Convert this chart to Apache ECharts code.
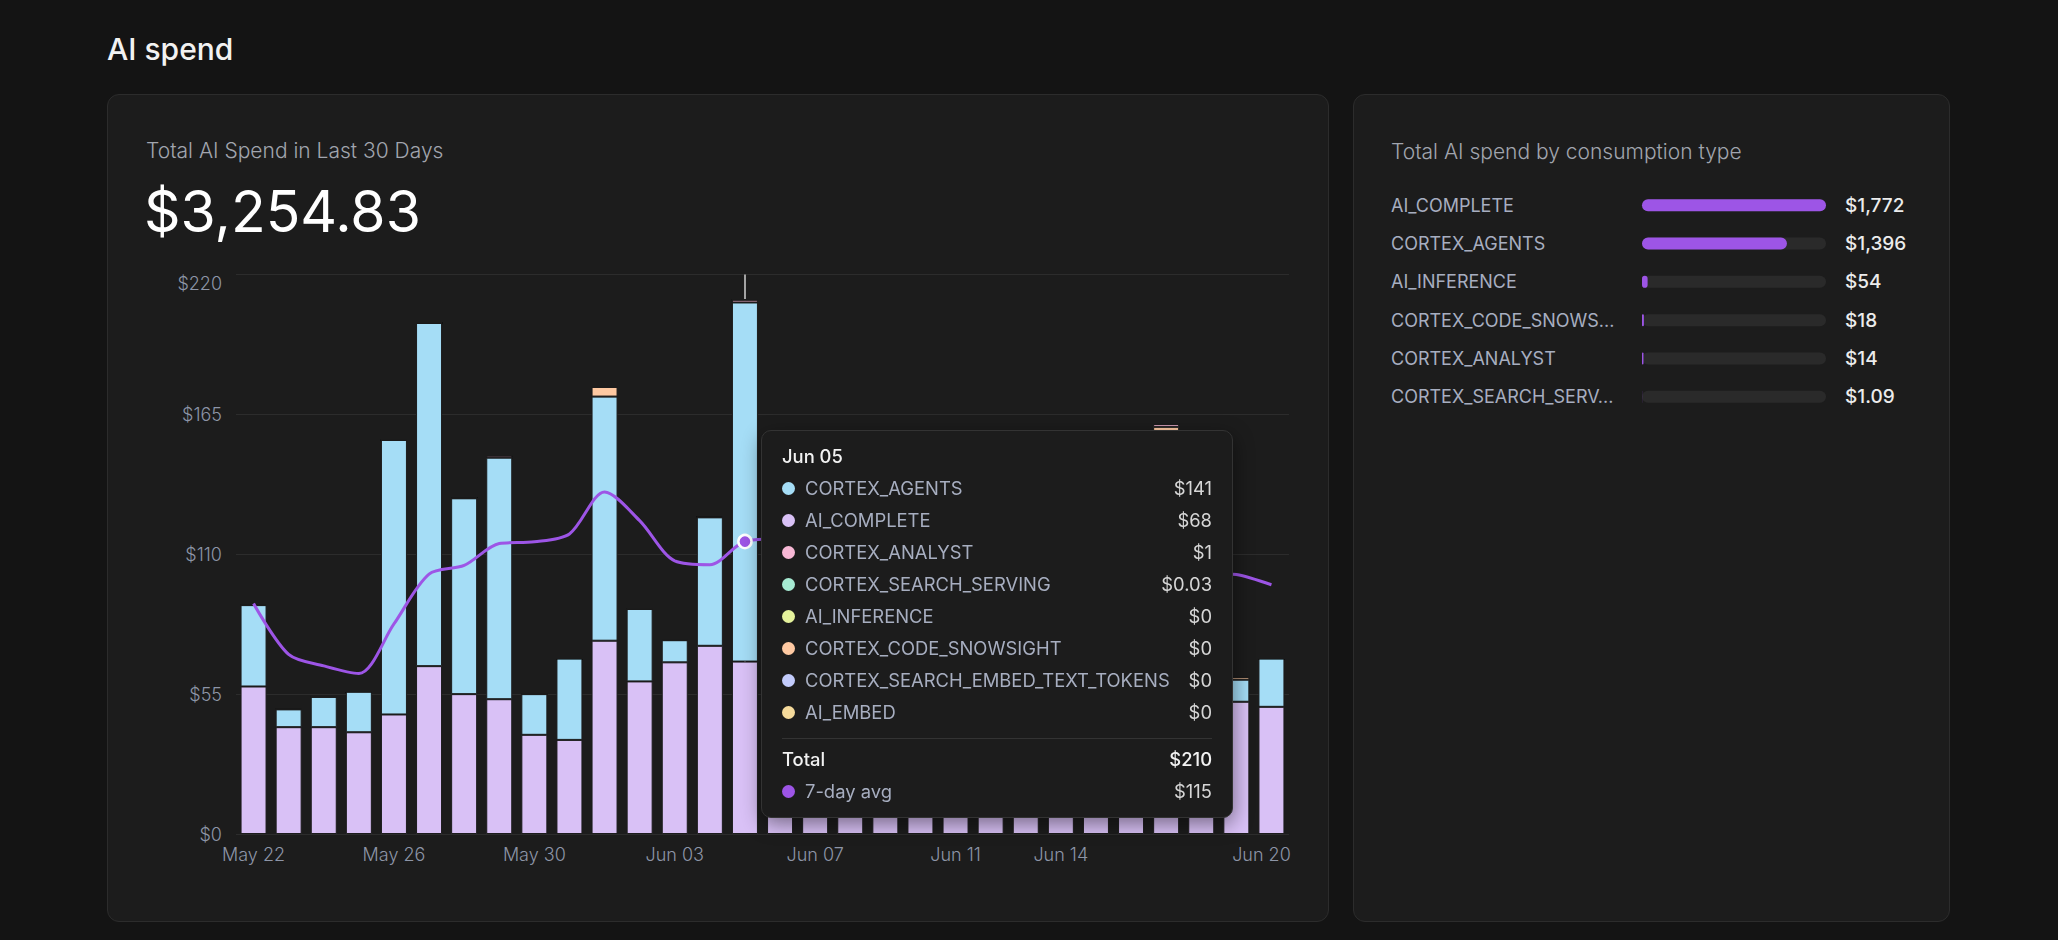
<!DOCTYPE html>
<html>
<head>
<meta charset="utf-8">
<title>AI spend</title>
<script src="https://cdn.jsdelivr.net/npm/echarts@6/dist/echarts.min.js"></script>
<style>
  html, body { margin: 0; padding: 0; }
  body {
    width: 2058px; height: 940px; position: relative; overflow: hidden;
    background: #141414; font-family: Inter, "Noto Sans", sans-serif;
  }
  .card {
    position: absolute; box-sizing: border-box;
    background: #1c1c1c; border: 1px solid #2c2c2c; border-radius: 12px;
  }
  .txt { position: absolute; line-height: 1; white-space: nowrap; pointer-events: none; z-index: 5; }
  .chart { position: absolute; }
</style>
</head>
<body>
<div class="txt" style="left:107px;top:34px;font-size:30px;font-weight:500;color:#f2f2f2;">AI spend</div>

<div class="card" style="left:107px;top:94px;width:1222px;height:828px;"></div>
<div class="card" style="left:1353px;top:94px;width:597px;height:828px;"></div>

<div class="txt" style="left:146px;top:140px;font-size:21px;font-weight:300;color:#a1a5ae;">Total AI Spend in Last 30 Days</div>
<div class="txt" style="left:144px;top:183px;font-size:57px;font-weight:400;color:#ffffff;">$3,254.83</div>
<div class="txt" style="left:1391px;top:141px;font-size:21px;font-weight:300;color:#a1a5ae;">Total AI spend by consumption type</div>

<div id="dailyChart" class="chart" style="left:107px;top:94px;width:1222px;height:828px;"></div>
<div id="typeChart" class="chart" style="left:1353px;top:94px;width:597px;height:828px;"></div>

<script>
// ---- daily spend, May 22 .. Jun 20 ----
var days = ['May 22','May 23','May 24','May 25','May 26','May 27','May 28','May 29','May 30','May 31',
            'Jun 01','Jun 02','Jun 03','Jun 04','Jun 05','Jun 06','Jun 07','Jun 08','Jun 09','Jun 10',
            'Jun 11','Jun 12','Jun 13','Jun 14','Jun 15','Jun 16','Jun 17','Jun 18','Jun 19','Jun 20'];
var xTickLabels = ['May 22','May 26','May 30','Jun 03','Jun 07','Jun 11','Jun 14','Jun 20'];
var yTicks = [0, 55, 110, 165, 220];

var aiComplete    = [58, 42, 42, 40, 47, 66, 55, 53, 39, 37, 76, 60, 67.5, 74, 67.8, 70, 62, 58, 72, 68, 64, 66, 61, 65, 62, 60, 68, 70, 52, 50];
var cortexAgents  = [32, 7, 12, 16, 108, 135, 77, 95, 16, 32, 96, 28.5, 8.7, 50.5, 141.2, 61, 28, 38, 68, 44, 28, 38, 24, 24, 26, 28, 86, 20, 8.7, 19];
var aiInference   = [0, 0, 0, 0, 0, 0, 0, 0, 0, 0, 0, 0, 0, 0, 0, 0, 0, 10, 0, 12, 0, 5, 10, 8, 5, 0, 4, 0, 0, 0];
var codeSnowsight = [0, 0, 0, 0, 0, 0, 0, 0, 0, 0, 3.8, 0, 0, 0, 0, 0, 0, 0, 0, 0, 3, 0, 2, 0, 3, 3, 2.1, 0, 1.1, 0];
var cortexAnalyst = [0, 0, 0, 0, 0, 0, 0, 0.8, 0, 0, 0, 0, 0, 0, 1.1, 2, 0, 0, 2, 2, 0, 2, 0, 1.5, 0, 1.5, 1.1, 0, 0, 0];
var searchServing = [0, 0, 0, 0, 0, 0, 0, 0, 0, 0, 0, 0, 0, 0, 0.03, 0, 0, 0.3, 0, 0.36, 0, 0, 0, 0.4, 0, 0, 0, 0, 0, 0];
var searchEmbed   = [0, 0, 0, 0, 0, 0, 0, 0, 0, 0, 0, 0, 0, 0, 0, 0, 0, 0, 0, 0, 0, 0, 0, 0, 0, 0, 0, 0, 0, 0];
var aiEmbed       = [0, 0, 0, 0, 0, 0, 0, 0, 0, 0, 0, 0, 0, 0, 0, 0, 0, 0, 0, 0, 0, 0, 0, 0, 0, 0, 0, 0, 0, 0];
var sevenDayAvg   = [90.6, 70.6, 66.1, 63.1, 82.6, 102.2, 105.6, 114.2, 114.9, 118, 134.5, 123.2, 107.4, 105.9, 115,
                     116, 113, 112, 114, 113, 110, 108, 104, 101, 100, 99, 105, 103, 102, 98];

// ---- totals by consumption type ----
var typeNames  = ['AI_COMPLETE','CORTEX_AGENTS','AI_INFERENCE','CORTEX_CODE_SNOWSIGHT','CORTEX_ANALYST','CORTEX_SEARCH_SERVING'];
var typeTotals = [1772, 1396, 54, 18, 14, 1.09];

var activeDay = 14; // Jun 05, the day shown in the tooltip

var stackDefs = [
    {name: 'AI_COMPLETE', data: aiComplete, color: '#d9c1f6'},
    {name: 'CORTEX_AGENTS', data: cortexAgents, color: '#a5ddf6'},
    {name: 'AI_INFERENCE', data: aiInference, color: '#e5f29c'},
    {name: 'CORTEX_CODE_SNOWSIGHT', data: codeSnowsight, color: '#fec9a2'},
    {name: 'CORTEX_ANALYST', data: cortexAnalyst, color: '#f7b8d5'},
    {name: 'CORTEX_SEARCH_SERVING', data: searchServing, color: '#a7ebd3'},
    {name: 'CORTEX_SEARCH_EMBED_TEXT_TOKENS', data: searchEmbed, color: '#c2cbfb'},
    {name: 'AI_EMBED', data: aiEmbed, color: '#f5da9b'}
];
var avgColor = '#9d55e6';

// tooltip money: whole dollars, cents only below $1
function money(v){
    if( v === 0 ) return '$0';
    if( v < 1 ) return '$' + v.toFixed(2);
    return '$' + Math.round(v).toLocaleString('en-US');
}
// panel money: cents for small totals
function totalMoney(v){
    if( v < 10 ) return '$' + v.toFixed(2);
    return '$' + Math.round(v).toLocaleString('en-US');
}

function tipRow(dot, name, value, nameColor, valueColor, weight){
    var dotHtml = dot ? "<span style='flex:none;width:13px;height:13px;border-radius:50%;background:"+dot+";margin-right:10px'></span>" : "";
    return "<div style='display:flex;align-items:center;height:32px'>" + dotHtml +
        "<span style='flex:1;color:"+nameColor+";font-weight:"+weight+"'>"+name+"</span>" +
        "<span style='color:"+valueColor+";font-weight:"+weight+"'>"+value+"</span></div>";
}

function tooltipHtml(params){
    var i = params[0].dataIndex;
    var rows = stackDefs.map(function(s, k){ return {name: s.name, color: s.color, v: s.data[i], k: k}; });
    rows.sort(function(a, b){ return (b.v - a.v) || (a.k - b.k); });
    var total = 0;
    var html = "<div style='width:430px;font-family:Inter,sans-serif;font-size:18.4px;line-height:1'>";
    html += "<div style='height:32px;display:flex;align-items:center;color:#f2f2f2;font-weight:500'>" + days[i] + "</div>";
    rows.forEach(function(r){
        total += r.v;
        html += tipRow(r.color, r.name, money(r.v), '#a7aec0', '#d6d6d6', 400);
    });
    html += "<div style='border-top:1px solid #333;margin-top:10px;margin-bottom:4px'></div>";
    html += tipRow(null, 'Total', money(total), '#f2f2f2', '#f2f2f2', 500);
    html += tipRow(avgColor, '7-day avg', money(sevenDayAvg[i]), '#a7aec0', '#d6d6d6', 400);
    html += "</div>";
    return html;
}

var dailyChart = echarts.init(document.getElementById('dailyChart'), null, {renderer: 'svg'});

var seriesData = [];
stackDefs.forEach(function(s){
    seriesData.push({
        name: s.name,
        type: 'bar',
        stack: 'spend',
        barWidth: 26,
        data: s.data,
        itemStyle: {color: s.color, borderColor: '#1c1c1c', borderWidth: 1},
        emphasis: {disabled: true}
    });
});
seriesData.push({
    name: '7-day avg',
    type: 'line',
    data: sevenDayAvg,
    smooth: 0.3,
    showSymbol: true,
    symbol: 'circle',
    symbolSize: function(v, p){ return p.dataIndex === activeDay ? 12 : 0; },
    itemStyle: {color: avgColor, borderColor: '#ffffff', borderWidth: 2.5},
    lineStyle: {color: avgColor, width: 3},
    emphasis: {disabled: true},
    z: 5
});

dailyChart.setOption({
    animation: false,
    grid: {left: 129, top: 180.5, width: 1053, height: 559.5},
    tooltip: {
        trigger: 'axis',
        triggerOn: 'none',
        alwaysShowContent: true,
        position: [654, 336],
        padding: [9, 20, 10, 20],
        backgroundColor: '#1c1c1c',
        borderColor: '#333333',
        borderWidth: 1,
        shadowBlur: 20,
        shadowColor: 'rgba(0,0,0,0.45)',
        shadowOffsetY: 6,
        extraCssText: 'border-radius:10px;',
        transitionDuration: 0,
        axisPointer: {type: 'line', z: 1, lineStyle: {color: '#a3a3a3', width: 2, type: 'solid'}},
        formatter: tooltipHtml
    },
    xAxis: {
        type: 'category',
        data: days,
        axisLine: {show: false},
        axisTick: {show: false},
        axisLabel: {
            interval: function(idx, val){ return xTickLabels.indexOf(val) >= 0; },
            margin: 11,
            color: '#8d95a7',
            fontFamily: 'Inter',
            fontWeight: 300,
            fontSize: 18,
            formatter: function(val, idx){ return idx === days.length - 1 ? '{last|' + val + '}' : val; },
            rich: {last: {color: '#8d95a7', fontFamily: 'Inter', fontWeight: 300, fontSize: 18, padding: [0, 20, 0, 0]}}
        }
    },
    yAxis: {
        type: 'value',
        min: yTicks[0],
        max: yTicks[yTicks.length - 1],
        interval: yTicks[1] - yTicks[0],
        axisLine: {show: false},
        axisTick: {show: false},
        splitLine: {lineStyle: {color: '#2c2c2c', width: 1}},
        axisLabel: {
            margin: 14,
            color: '#8d95a7',
            fontFamily: 'Inter',
            fontWeight: 300,
            fontSize: 18,
            formatter: function(v){
                return v === yTicks[yTicks.length - 1] ? '{top|$' + v + '}' : '$' + v;
            },
            rich: {top: {color: '#8d95a7', fontFamily: 'Inter', fontWeight: 300, fontSize: 18, padding: [17, 0, 0, 0]}}
        }
    },
    series: seriesData
});
dailyChart.dispatchAction({type: 'showTip', seriesIndex: 0, dataIndex: activeDay});

// ---- right panel ----
var typeChart = echarts.init(document.getElementById('typeChart'), null, {renderer: 'svg'});
typeChart.setOption({
    animation: false,
    grid: {left: 289, top: 92, width: 184, height: 230},
    xAxis: {type: 'value', min: 0, max: typeTotals[0], show: false},
    yAxis: [
        {
            type: 'category',
            inverse: true,
            data: typeNames,
            axisLine: {show: false},
            axisTick: {show: false},
            axisLabel: {
                align: 'left',
                margin: 251,
                color: '#a7aec0',
                fontFamily: 'Inter',
                fontWeight: 400,
                fontSize: 18,
                width: 228,
                overflow: 'truncate',
                ellipsis: '...'
            }
        },
        {
            type: 'category',
            inverse: true,
            position: 'right',
            data: typeNames,
            axisLine: {show: false},
            axisTick: {show: false},
            axisLabel: {
                align: 'left',
                margin: 19,
                color: '#ececec',
                fontFamily: 'Inter',
                fontWeight: 500,
                fontSize: 19,
                formatter: function(v, idx){ return totalMoney(typeTotals[idx]); }
            }
        }
    ],
    series: [{
        type: 'bar',
        data: typeTotals,
        barWidth: 12,
        showBackground: true,
        backgroundStyle: {color: '#2a2a2a', borderRadius: 6},
        itemStyle: {color: '#9d55e6', borderRadius: 6},
        emphasis: {disabled: true}
    }]
});
</script>
</body>
</html>
